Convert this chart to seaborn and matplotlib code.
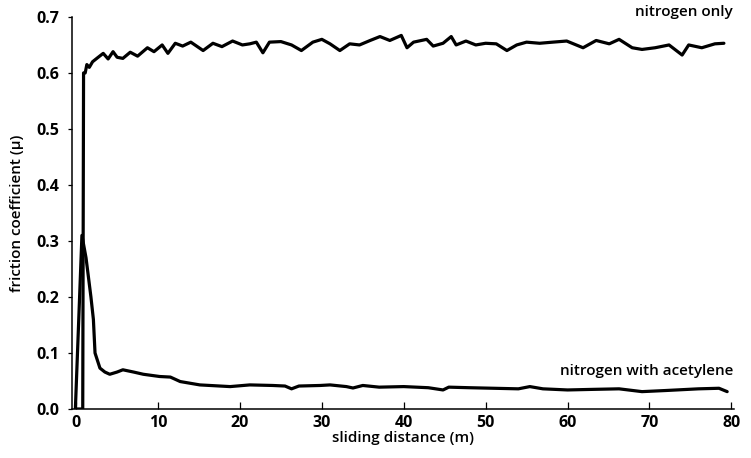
import numpy as np
import pandas as pd
import matplotlib
matplotlib.use("Agg")
import matplotlib.pyplot as plt
import seaborn as sns

# nitrogen only
n2_x = [0, 0.8, 0.9, 1.1, 1.3, 1.6, 2.0, 2.6, 3.3, 3.9, 4.5, 5.0, 5.7, 6.6, 7.5,
        8.7, 9.5, 10.5, 11.2, 12.1, 13.0, 14.0, 15.5, 16.7, 17.8, 19.1, 20.3,
        21.2, 22.0, 22.8, 23.6, 25.0, 26.3, 27.5, 28.9, 30.0, 31.0, 32.2, 33.4,
        34.6, 35.9, 37.1, 38.3, 39.7, 40.4, 41.2, 42.8, 43.6, 44.8, 45.8, 46.4,
        47.6, 48.8, 50.0, 51.3, 52.6, 53.8, 55.0, 56.6, 58.2, 59.9, 61.9, 63.5,
        65.1, 66.3, 67.9, 69.1, 70.7, 72.4, 74.0, 74.8, 76.4, 78.0, 79.1]
n2_y = [0, 0, 0.6, 0.6, 0.615, 0.61, 0.62, 0.627, 0.635, 0.625, 0.638, 0.628,
        0.626, 0.637, 0.63, 0.645, 0.638, 0.65, 0.635, 0.653, 0.648, 0.655,
        0.64, 0.653, 0.647, 0.657, 0.65, 0.652, 0.655, 0.636, 0.655, 0.656,
        0.65, 0.64, 0.655, 0.66, 0.652, 0.64, 0.652, 0.65, 0.658, 0.665, 0.658,
        0.667, 0.645, 0.655, 0.66, 0.648, 0.653, 0.665, 0.65, 0.657, 0.65,
        0.653, 0.652, 0.64, 0.65, 0.655, 0.653, 0.655, 0.657, 0.645, 0.658,
        0.652, 0.66, 0.645, 0.642, 0.645, 0.65, 0.632, 0.65, 0.645, 0.652, 0.653]

# nitrogen with acetylene
ac_x = [-0.1, 0.7, 1.2, 1.8, 2.1, 2.3, 2.9, 3.5, 4.1, 5.0, 5.7, 7.0, 8.2, 10.2,
        11.5, 12.7, 15.1, 18.8, 21.2, 24.0, 25.5, 26.3, 27.2, 29.8, 31.0, 33.0,
        33.8, 35.0, 37.0, 40.0, 43.0, 44.8, 45.5, 48.0, 51.0, 54.0, 55.4, 57.0,
        60.0, 63.0, 66.3, 69.1, 72.0, 76.0, 78.5, 79.5]
ac_y = [0, 0.31, 0.27, 0.2, 0.16, 0.1, 0.073, 0.066, 0.062, 0.066, 0.07, 0.066,
        0.062, 0.058, 0.057, 0.049, 0.043, 0.040, 0.043, 0.042, 0.041, 0.036,
        0.041, 0.042, 0.043, 0.040, 0.0375, 0.042, 0.039, 0.040, 0.038, 0.034,
        0.039, 0.038, 0.037, 0.036, 0.040, 0.036, 0.034, 0.035, 0.036, 0.031,
        0.033, 0.036, 0.037, 0.031]

x_ticks = [0, 10, 20, 30, 40, 50, 60, 70, 80]
y_ticks = [0.0, 0.1, 0.2, 0.3, 0.4, 0.5, 0.6, 0.7]

assert len(n2_x) == len(n2_y) and len(ac_x) == len(ac_y)

df = pd.concat([
    pd.DataFrame({"x": n2_x, "y": n2_y, "gas": "nitrogen only"}),
    pd.DataFrame({"x": ac_x, "y": ac_y, "gas": "nitrogen with acetylene"}),
])

sns.set_style("ticks")
plt.rcParams["font.family"] = ["Open Sans", "DejaVu Sans"]
for key in ["text.color", "axes.labelcolor", "xtick.color", "ytick.color",
            "axes.edgecolor"]:
    plt.rcParams[key] = "black"

fig = plt.figure(figsize=(7.51, 4.58), dpi=100)
ax = fig.add_axes([0.096, 0.107, 0.881, 0.856])

sns.lineplot(data=df, x="x", y="y", units="gas", estimator=None, sort=False,
             color="black", linewidth=2.3, ax=ax, legend=False)

ax.set_xlim(-0.5, 80.3)
ax.set_ylim(0, 0.7)
ax.set_xticks(x_ticks)
ax.set_yticks(y_ticks)
ax.set_xticklabels([str(t) for t in x_ticks], fontweight="bold", fontsize=11.5)
ax.set_yticklabels([f"{t:.1f}" for t in y_ticks], fontweight="bold", fontsize=11.5)
ax.tick_params(axis="x", direction="in", length=5, width=0.9, pad=4)
ax.tick_params(axis="y", direction="out", length=3, width=0.9, pad=6)
sns.despine(ax=ax)
for s in ["left", "bottom"]:
    ax.spines[s].set_linewidth(1.1)

ax.set_xlabel("sliding distance (m)", fontsize=11, fontweight="semibold", labelpad=0)
ax.set_ylabel("friction coefficient (\u03bc)", fontsize=11, fontweight="semibold", labelpad=9)

ax.text(80.2, 0.708, "nitrogen only", ha="right", va="center", fontsize=11,
        fontweight="semibold", clip_on=False)
ax.text(80.2, 0.067, "nitrogen with acetylene", ha="right", va="center",
        fontsize=11, fontweight="semibold")

fig.savefig("out.png", dpi=100)
